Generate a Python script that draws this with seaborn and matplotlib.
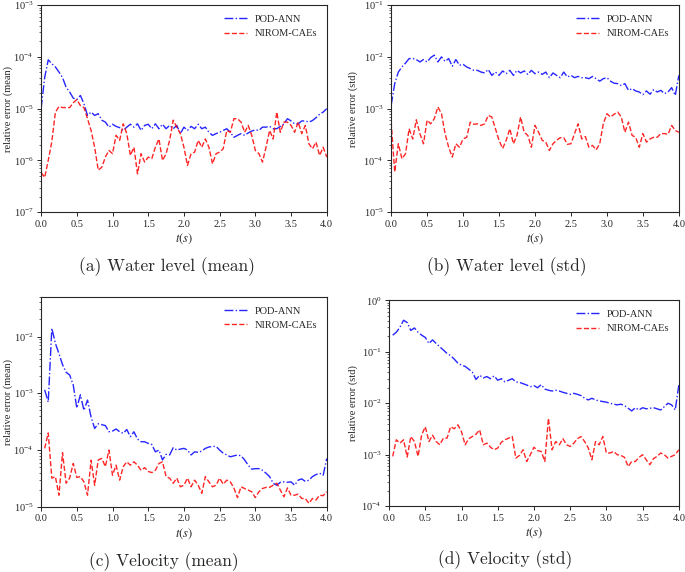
import numpy as np
import matplotlib.pyplot as plt
import seaborn as sns

sns.set_style("ticks")
plt.rcParams['font.family'] = ['Liberation Serif', 'DejaVu Serif']
plt.rcParams['mathtext.fontset'] = 'stix'
plt.rcParams['xtick.major.size'] = 3
plt.rcParams['ytick.major.size'] = 3
plt.rcParams['xtick.minor.size'] = 1.5
plt.rcParams['ytick.minor.size'] = 1.5
plt.rcParams['axes.linewidth'] = 0.8

# time axes (water level starts at t=0, velocity at t=0.05)
t_wl = np.linspace(0.0, 4.0, 81)
t_vel = np.linspace(0.05, 4.0, 80)

# (a) water level, mean
wl_mean_pod = [
    1.0e-5, 4.0e-5, 8.8e-5, 7.4e-5, 6.4e-5, 5.1e-5, 4.0e-5, 2.6e-5, 2.1e-5, 1.6e-5,
    1.5e-5, 1.8e-5, 1.25e-5, 7.4e-6, 8.6e-6, 7.4e-6, 8.0e-6, 6.0e-6, 5.5e-6, 4.4e-6,
    5.0e-6, 4.55e-6, 4.3e-6, 3.8e-6, 4.4e-6, 5.0e-6, 4.4e-6, 5.1e-6, 3.8e-6, 4.75e-6,
    5.0e-6, 4.1e-6, 5.1e-6, 4.1e-6, 5.0e-6, 4.1e-6, 4.75e-6, 4.1e-6, 4.75e-6, 3.3e-6,
    4.4e-6, 3.8e-6, 4.55e-6, 4.1e-6, 5.0e-6, 4.1e-6, 4.4e-6, 3.5e-6, 3.05e-6, 3.3e-6,
    3.5e-6, 3.8e-6, 4.1e-6, 3.5e-6, 2.8e-6, 3.05e-6, 3.3e-6, 3.05e-6, 3.4e-6, 3.7e-6,
    3.9e-6, 3.8e-6, 4.4e-6, 4.4e-6, 4.55e-6, 4.1e-6, 4.1e-6, 4.55e-6, 5.1e-6, 6.4e-6,
    5.8e-6, 5.1e-6, 5.1e-6, 5.8e-6, 5.8e-6, 5.5e-6, 5.9e-6, 6.7e-6, 7.8e-6, 8.6e-6,
    1.0e-5,
]
wl_mean_cae = [
    5.9e-7, 4.7e-7, 1.0e-6, 2.3e-6, 8.5e-6, 1.1e-5, 1.05e-5, 1.05e-5, 1.05e-5, 1.3e-5,
    1.5e-5, 1.15e-5, 1.05e-5, 6.4e-6, 3.8e-6, 1.8e-6, 6.5e-7, 7.4e-7, 1.16e-6, 1.56e-6,
    1.35e-6, 3.05e-6, 2.45e-6, 5.1e-6, 3.3e-6, 1.25e-6, 1.8e-6, 5.5e-7, 1.35e-6, 9.3e-7,
    1.16e-6, 1.08e-6, 1.8e-6, 2.6e-6, 1.0e-6, 1.35e-6, 2.45e-6, 6.0e-6, 4.4e-6, 3.3e-6,
    1.8e-6, 8.0e-7, 1.35e-6, 1.45e-6, 2.45e-6, 1.8e-6, 2.6e-6, 1.8e-6, 8.6e-7, 1.35e-6,
    1.45e-6, 1.68e-6, 3.8e-6, 3.5e-6, 6.4e-6, 6.4e-6, 5.5e-6, 3.5e-6, 4.75e-6, 3.05e-6,
    1.56e-6, 1.35e-6, 9.3e-7, 1.8e-6, 3.8e-6, 2.6e-6, 8.6e-6, 3.5e-6, 5.5e-6, 5.5e-6,
    4.75e-6, 3.5e-6, 5.5e-6, 3.3e-6, 4.75e-6, 2.1e-6, 1.68e-6, 2.26e-6, 1.25e-6, 1.8e-6,
    1.16e-6,
]

# (b) water level, std
wl_std_pod = [
    1.16e-3, 3.05e-3, 5.1e-3, 6.4e-3, 7.6e-3, 9.3e-3, 9.3e-3, 8.9e-3, 8.0e-3, 8.9e-3,
    8.0e-3, 9.7e-3, 1.08e-2, 8.0e-3, 1.0e-2, 8.2e-3, 9.3e-3, 6.6e-3, 8.9e-3, 6.9e-3,
    7.2e-3, 6.4e-3, 5.95e-3, 5.5e-3, 5.5e-3, 5.1e-3, 4.9e-3, 5.7e-3, 4.4e-3, 5.1e-3,
    4.4e-3, 5.35e-3, 4.75e-3, 5.5e-3, 4.4e-3, 5.5e-3, 4.9e-3, 5.35e-3, 4.6e-3, 5.5e-3,
    4.75e-3, 5.1e-3, 4.6e-3, 5.1e-3, 3.97e-3, 4.9e-3, 4.4e-3, 3.97e-3, 5.1e-3, 4.1e-3,
    4.4e-3, 3.97e-3, 4.2e-3, 3.97e-3, 3.97e-3, 3.8e-3, 4.2e-3, 3.8e-3, 3.4e-3, 3.8e-3,
    3.97e-3, 3.4e-3, 3.1e-3, 3.05e-3, 2.8e-3, 3.05e-3, 2.26e-3, 2.44e-3, 2.2e-3, 2.1e-3,
    1.87e-3, 2.2e-3, 1.9e-3, 2.33e-3, 2.1e-3, 2.26e-3, 1.95e-3, 2.1e-3, 2.55e-3, 1.8e-3,
    4.4e-3,
]
wl_std_cae = [
    5.5e-4, 6.0e-5, 2.1e-4, 1.08e-4, 1.35e-4, 4.1e-4, 2.6e-4, 6.1e-4, 3.3e-4, 2.1e-4,
    6.0e-4, 5.1e-4, 6.4e-4, 1.08e-3, 8.0e-4, 3.3e-4, 1.8e-4, 1.16e-4, 2.1e-4, 1.8e-4,
    2.6e-4, 2.8e-4, 5.5e-4, 5.0e-4, 5.1e-4, 4.75e-4, 5.1e-4, 7.4e-4, 6.9e-4, 4.1e-4,
    2.45e-4, 1.7e-4, 2.45e-4, 4.1e-4, 2.1e-4, 3.05e-4, 6.9e-4, 3.5e-4, 3.05e-4, 1.8e-4,
    4.75e-4, 3.5e-4, 2.45e-4, 2.26e-4, 1.56e-4, 2.1e-4, 2.45e-4, 2.75e-4, 2.75e-4, 2.05e-4,
    2.1e-4, 3.3e-4, 5.1e-4, 2.6e-4, 2.9e-4, 1.8e-4, 1.95e-4, 1.6e-4, 2.1e-4, 5.1e-4,
    8.0e-4, 6.9e-4, 7.8e-4, 8.6e-4, 6.9e-4, 3.5e-4, 5.5e-4, 3.05e-4, 2.8e-4, 1.8e-4,
    3.3e-4, 2.26e-4, 2.6e-4, 2.8e-4, 2.8e-4, 3.3e-4, 3.3e-4, 3.2e-4, 4.75e-4, 3.8e-4,
    3.5e-4,
]

# (c) velocity, mean
vel_mean_pod = [
    1.15e-3, 7.0e-4, 1.4e-2, 7.6e-3, 5.0e-3, 3.2e-3, 2.35e-3, 2.1e-3, 1.4e-3, 5.5e-4,
    9.4e-4, 5.0e-4, 7.6e-4, 3.8e-4, 2.4e-4, 2.9e-4, 2.8e-4, 2.7e-4, 2.1e-4, 2.16e-4,
    2.35e-4, 2.1e-4, 1.97e-4, 2.3e-4, 1.72e-4, 2.1e-4, 1.56e-4, 1.4e-4, 1.4e-4, 1.31e-4,
    1.25e-4, 9.3e-5, 1.0e-4, 6.7e-5, 8.4e-5, 8.2e-5, 1.1e-4, 1.0e-4, 1.04e-4, 1.07e-4,
    1.0e-4, 8.2e-5, 9.3e-5, 9.1e-5, 9.6e-5, 1.07e-4, 1.13e-4, 1.16e-4, 1.16e-4, 1.0e-4,
    8.8e-5, 8.2e-5, 7.6e-5, 7.9e-5, 8.2e-5, 7.9e-5, 6.7e-5, 5.4e-5, 4.6e-5, 4.7e-5,
    4.7e-5, 4.4e-5, 3.9e-5, 3.4e-5, 2.6e-5, 2.4e-5, 2.7e-5, 2.75e-5, 2.7e-5, 2.75e-5,
    2.4e-5, 2.95e-5, 3.1e-5, 2.8e-5, 2.95e-5, 3.4e-5, 3.7e-5, 3.9e-5, 3.6e-5, 7.1e-5,
]
vel_mean_cae = [
    1.07e-4, 2.0e-4, 3.2e-5, 3.4e-5, 1.6e-5, 9.0e-5, 2.6e-5, 3.2e-5, 5.8e-5, 3.3e-5,
    3.4e-5, 2.75e-5, 1.6e-5, 6.6e-5, 2.4e-5, 6.7e-5, 7.1e-5, 5.1e-5, 1.0e-4, 3.6e-5,
    5.4e-5, 2.95e-5, 5.1e-5, 6.2e-5, 5.4e-5, 6.2e-5, 5.4e-5, 4.4e-5, 4.9e-5, 4.2e-5,
    4.0e-5, 4.4e-5, 5.8e-5, 6.2e-5, 3.4e-5, 3.2e-5, 2.6e-5, 3.2e-5, 2.25e-5, 2.4e-5,
    3.2e-5, 2.25e-5, 2.95e-5, 2.4e-5, 1.73e-5, 3.4e-5, 2.75e-5, 2.25e-5, 2.4e-5, 3.2e-5,
    2.5e-5, 2.95e-5, 2.75e-5, 2.15e-5, 1.45e-5, 2.25e-5, 2.1e-5, 1.97e-5, 1.84e-5, 1.45e-5,
    1.84e-5, 2.1e-5, 2.2e-5, 2.2e-5, 2.4e-5, 2.6e-5, 1.97e-5, 1.5e-5, 2.15e-5, 1.6e-5,
    1.6e-5, 1.67e-5, 1.4e-5, 1.4e-5, 1.15e-5, 1.4e-5, 1.32e-5, 1.6e-5, 1.57e-5, 1.84e-5,
]

# (d) velocity, std
vel_std_pod = [
    0.21, 0.24, 0.30, 0.41, 0.37, 0.26, 0.29, 0.24, 0.21, 0.19,
    0.145, 0.17, 0.145, 0.125, 0.108, 0.093, 0.084, 0.072, 0.060, 0.055,
    0.052, 0.046, 0.040, 0.029, 0.035, 0.031, 0.033, 0.030, 0.034, 0.028,
    0.030, 0.026, 0.028, 0.030, 0.026, 0.0255, 0.024, 0.0226, 0.021, 0.022,
    0.020, 0.023, 0.0189, 0.0179, 0.0173, 0.0179, 0.0173, 0.0163, 0.0156, 0.0149,
    0.0156, 0.0149, 0.0141, 0.0125, 0.0116, 0.0125, 0.0116, 0.0111, 0.0108, 0.0105,
    0.0100, 0.0096, 0.0093, 0.0096, 0.0090, 0.0080, 0.0071, 0.0082, 0.0074, 0.0082,
    0.0078, 0.0080, 0.0082, 0.0078, 0.0074, 0.0086, 0.0100, 0.0093, 0.0074, 0.0226,
]
vel_std_cae = [
    9.3e-4, 1.95e-3, 1.68e-3, 1.95e-3, 9.0e-4, 2.26e-3, 1.8e-3, 9.3e-4, 2.44e-3, 3.5e-3,
    1.8e-3, 2.4e-3, 1.8e-3, 1.56e-3, 2.1e-3, 2.1e-3, 3.5e-3, 3.2e-3, 3.8e-3, 2.8e-3,
    1.56e-3, 2.05e-3, 2.26e-3, 2.5e-3, 3.05e-3, 1.56e-3, 1.68e-3, 1.4e-3, 1.25e-3, 1.35e-3,
    1.75e-3, 1.95e-3, 2.1e-3, 2.26e-3, 8.6e-4, 9.7e-4, 1.25e-3, 7.4e-4, 1.0e-3, 1.4e-3,
    1.2e-3, 1.16e-3, 7.4e-4, 5.1e-3, 1.25e-3, 1.8e-3, 1.56e-3, 2.05e-3, 1.56e-3, 1.45e-3,
    1.68e-3, 2.05e-3, 2.26e-3, 1.8e-3, 1.35e-3, 8.0e-4, 1.8e-3, 1.56e-3, 2.26e-3, 1.08e-3,
    1.08e-3, 1.16e-3, 1.0e-3, 9.7e-4, 8.9e-4, 5.9e-4, 7.4e-4, 7.4e-4, 8.9e-4, 1.0e-3,
    8.0e-4, 6.4e-4, 8.4e-4, 9.3e-4, 1.08e-3, 1.0e-3, 8.6e-4, 9.3e-4, 1.0e-3, 1.25e-3,
]

panels = [
    ([0.060, 0.629, 0.417, 0.362], t_wl, wl_mean_pod, wl_mean_cae, (1e-7, 1e-3),
     'relative error (mean)', '(a) Water level (mean)', (0.244, 0.533), -0.098),
    ([0.571, 0.629, 0.420, 0.362], t_wl, wl_std_pod, wl_std_cae, (1e-5, 1e-1),
     'relative error (std)', '(b) Water level (std)', (0.740, 0.533), -0.115),
    ([0.060, 0.114, 0.417, 0.367], t_vel, vel_mean_pod, vel_mean_cae, (1e-5, 5e-2),
     'relative error (mean)', '(c) Velocity (mean)', (0.239, 0.018), -0.098),
    ([0.568, 0.115, 0.423, 0.360], t_vel, vel_std_pod, vel_std_cae, (1e-4, 1e0),
     'relative error (std)', '(d) Velocity (std)', (0.737, 0.021), -0.108),
]

fig = plt.figure(figsize=(6.85, 5.72), dpi=100)

for rect, t, pod, cae, ylim, ylabel, caption, cpos, ylab_x in panels:
    ax = fig.add_axes(rect)
    sns.lineplot(x=t, y=pod, ax=ax, color='blue', linestyle='-.', lw=1.0,
                 alpha=0.85, label='POD-ANN')
    sns.lineplot(x=t, y=cae, ax=ax, color='red', linestyle='--', lw=1.0,
                 alpha=0.85, label='NIROM-CAEs')
    ax.set_yscale('log')
    ax.set_xlim(0, 4)
    ax.set_ylim(*ylim)
    ax.set_xticks(np.arange(0, 4.01, 0.5))
    ax.tick_params(labelsize=7.5, width=0.7, pad=2.5)
    ax.tick_params(which='minor', width=0.5)
    ax.set_xlabel(r'$t(s)$', fontsize=9, labelpad=2)
    ax.set_ylabel(ylabel, fontsize=7.5)
    ax.yaxis.set_label_coords(ylab_x, 0.5)
    ax.legend(loc='upper right', frameon=False, fontsize=7.5, handlelength=2.2)
    fig.text(cpos[0], cpos[1], caption, ha='center', va='center',
             fontsize=12.5, family='cmr10')

plt.savefig('out.png', dpi=100)
